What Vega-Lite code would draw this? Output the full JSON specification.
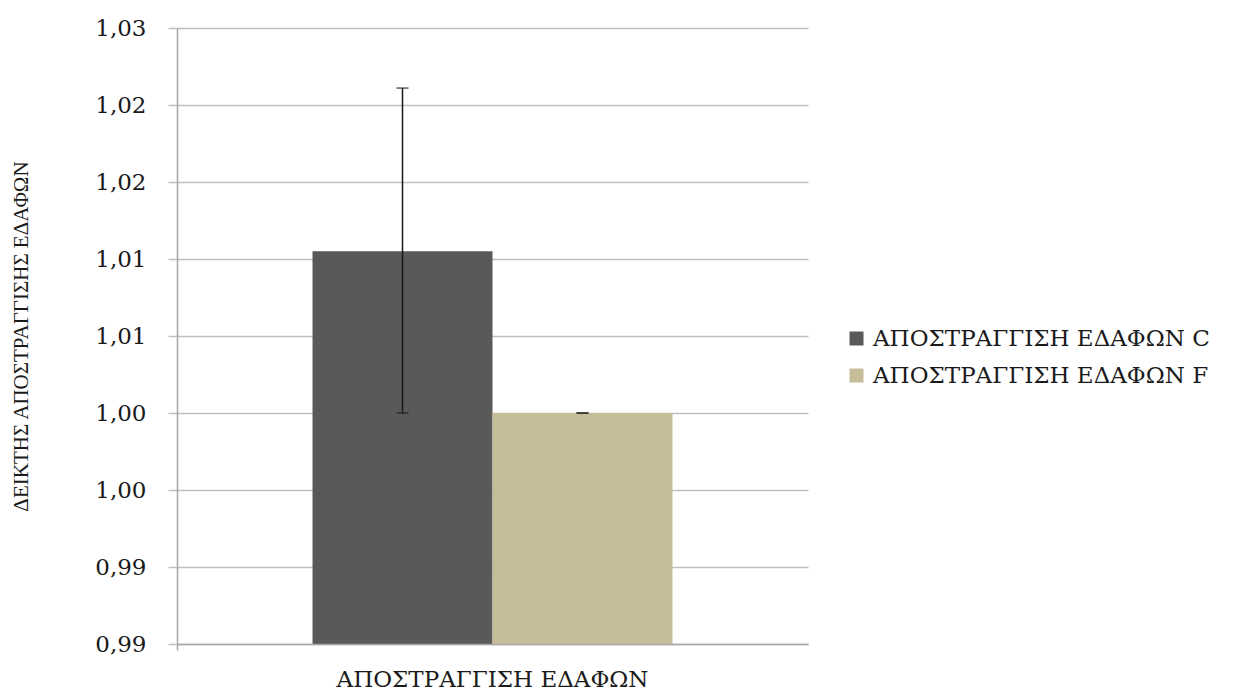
{
  "$schema": "https://vega.github.io/schema/vega-lite/v6.json",
  "width": 631,
  "height": 616,
  "autosize": "none",
  "padding": {"left": 177, "top": 28, "right": 426, "bottom": 49},
  "background": "white",
  "config": {"view": {"stroke": null}},
  "data": {
    "values": [
      {"cat": "ΑΠΟΣΤΡΑΓΓΙΣΗ ΕΔΑΦΩΝ", "series": "ΑΠΟΣΤΡΑΓΓΙΣΗ ΕΔΑΦΩΝ C", "value": 1.0105, "lo": 1.0, "hi": 1.0211},
      {"cat": "ΑΠΟΣΤΡΑΓΓΙΣΗ ΕΔΑΦΩΝ", "series": "ΑΠΟΣΤΡΑΓΓΙΣΗ ΕΔΑΦΩΝ F", "value": 1.0, "lo": 1.0, "hi": 1.0}
    ]
  },
  "encoding": {
    "x": {
      "field": "cat", "type": "nominal",
      "scale": {"paddingInner": 0, "paddingOuter": 0},
      "axis": {
        "title": null, "labelAngle": 0, "labelFont": "DejaVu Serif", "labelFontSize": 23,
        "labelColor": "#1a1a1a", "labelPadding": 18, "labelLimit": 700, "tickSize": 6, "tickColor": "#A6A6A6",
        "domainColor": "#A6A6A6", "domainWidth": 1.5, "tickWidth": 1.5, "bandPosition": 0, "grid": false, "zindex": 1
      }
    },
    "xOffset": {"field": "series", "type": "nominal", "scale": {"paddingInner": 0, "paddingOuter": 0.753}}
  },
  "layer": [
    {
      "mark": {"type": "bar"},
      "encoding": {
        "y": {
          "field": "value", "type": "quantitative",
          "scale": {"domain": [0.985, 1.025], "zero": false, "nice": false},
          "axis": {
            "values": [0.985, 0.99, 0.995, 1.0, 1.005, 1.01, 1.015, 1.02, 1.025],
            "labelExpr": "replace(format(datum.value + 0.00001, '.2f'), '.', ',')",
            "labelFont": "DejaVu Serif", "labelFontSize": 23, "labelColor": "#1a1a1a",
            "labelPadding": 22, "tickSize": 9, "tickColor": "#BFBFBF", "tickWidth": 1.5,
            "domainColor": "#A6A6A6", "domainWidth": 1.5,
            "grid": true, "gridColor": "#BFBFBF", "gridWidth": 1.5,
            "title": "ΔΕΙΚΤΗΣ ΑΠΟΣΤΡΑΓΓΙΣΗΣ ΕΔΑΦΩΝ",
            "titleFont": "Liberation Serif", "titleFontSize": 21, "titleFontWeight": "normal",
            "titleColor": "#1a1a1a", "titleX": -156, "titleY": 308, "titleBaseline": "middle", "titleAngle": 270
          }
        },
        "y2": {"datum": 0.985},
        "color": {
          "field": "series", "type": "nominal",
          "scale": {"range": ["#595959", "#C4BD97"]},
          "legend": {
            "title": null, "orient": "none", "legendX": 668, "legendY": 299,
            "symbolType": "square", "symbolSize": 196, "symbolStrokeWidth": 0,
            "labelFont": "DejaVu Serif", "labelFontSize": 23, "labelColor": "#1a1a1a",
            "rowPadding": 13, "labelOffset": 5, "labelLimit": 500
          }
        }
      }
    },
    {
      "mark": {"type": "rule", "color": "#1a1a1a", "strokeWidth": 1.5},
      "encoding": {
        "y": {"field": "lo", "type": "quantitative"},
        "y2": {"field": "hi"}
      }
    },
    {
      "mark": {"type": "tick", "color": "#1a1a1a", "thickness": 1.5, "size": 12},
      "encoding": {"y": {"field": "lo", "type": "quantitative"}}
    },
    {
      "mark": {"type": "tick", "color": "#1a1a1a", "thickness": 1.5, "size": 12},
      "encoding": {"y": {"field": "hi", "type": "quantitative"}}
    }
  ]
}
